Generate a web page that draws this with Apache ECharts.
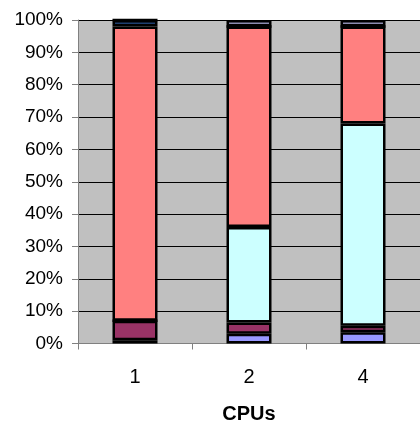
<!DOCTYPE html>
<html>
<head>
<meta charset="utf-8">
<script src="https://cdn.jsdelivr.net/npm/echarts@6/dist/echarts.min.js"></script>
<style>
  html, body { margin: 0; padding: 0; background: #fff; }
  #chart { width: 420px; height: 430px; }
</style>
</head>
<body>
<div id="chart"></div>
<script>
var categories = ['1', '2', '4'];
var yTicks = ['0%', '10%', '20%', '30%', '40%', '50%', '60%', '70%', '80%', '90%', '100%'];

// share of each part, per CPU count (bottom to top)
var partA = [1, 3, 3.5];
var partB = [6, 3.5, 2];
var partC = [0, 29.5, 62.5];
var partD = [91, 62, 30];
var partE = [2, 0, 0];
var partF = [0, 2, 2];

var parts = [
  { name: 'A', data: partA, color: '#9999FF' },
  { name: 'B', data: partB, color: '#993366' },
  { name: 'C', data: partC, color: '#CCFFFF' },
  { name: 'D', data: partD, color: '#FF8080' },
  { name: 'E', data: partE, color: '#1F3F6F' },
  { name: 'F', data: partF, color: '#8C8CB0' }
];

var chart = echarts.init(document.getElementById('chart'));
chart.setOption({
  animation: false,
  backgroundColor: '#ffffff',
  grid: {
    left: 78,
    top: 20,
    width: 347,
    height: 323.5,
    backgroundColor: '#C0C0C0',
    show: true,
    borderWidth: 0
  },
  xAxis: {
    type: 'category',
    data: categories,
    name: 'CPUs',
    nameLocation: 'middle',
    nameGap: 61,
    nameTextStyle: { fontFamily: 'Liberation Sans', fontSize: 20, fontWeight: 'bold', color: '#000' },
    axisLine: { lineStyle: { color: '#808080', width: 1 } },
    axisTick: { show: true, length: 6, lineStyle: { color: '#808080' } },
    axisLabel: { fontFamily: 'Liberation Sans', fontSize: 20, color: '#000', margin: 24 }
  },
  yAxis: {
    type: 'value',
    min: 0,
    max: 100,
    interval: 10,
    axisLine: { show: true, lineStyle: { color: '#808080', width: 1 } },
    axisTick: { show: true, length: 6, lineStyle: { color: '#808080' } },
    axisLabel: {
      fontFamily: 'Liberation Sans', fontSize: 19, color: '#000', margin: 15,
      formatter: function (v) { return yTicks[Math.round(v / 10)]; }
    },
    splitLine: { lineStyle: { color: '#000', width: 1 } }
  },
  series: parts.map(function (p) {
    return {
      name: p.name,
      type: 'bar',
      stack: 'total',
      barWidth: 45,
      data: p.data,
      itemStyle: { color: p.color, borderColor: '#000', borderWidth: 2.5 }
    };
  })
});
</script>
</body>
</html>
